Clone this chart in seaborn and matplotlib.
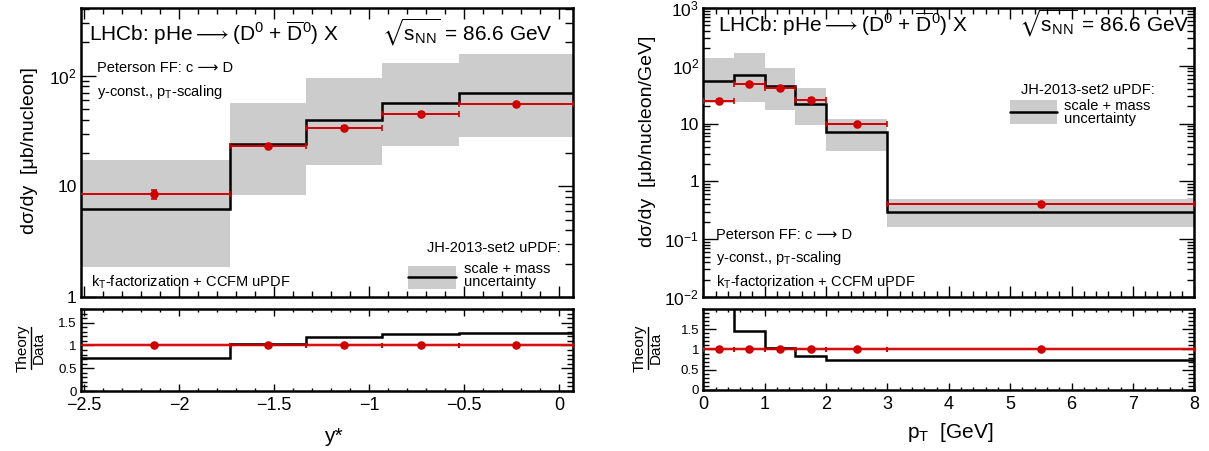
import numpy as np
import matplotlib
matplotlib.use("Agg")
import matplotlib.pyplot as plt
import seaborn as sns
from matplotlib.ticker import FixedLocator, FixedFormatter, MultipleLocator, LogLocator, NullFormatter
from matplotlib.patches import Rectangle
from matplotlib.lines import Line2D

# ---------------- data ----------------
# rapidity panel
y_edges = [-2.53, -1.73, -1.33, -0.93, -0.53, 0.07]
y_centers = [-2.13, -1.53, -1.13, -0.73, -0.23]
y_data = [8.5, 23.4, 34.0, 45.5, 55.0]
y_data_err = [0.8, 1.0, 1.2, 1.5, 2.0]
y_theory = [6.2, 24.0, 40.0, 57.0, 70.0]
y_band_lo = [1.86, 8.3, 15.5, 23.0, 28.0]
y_band_hi = [17.5, 57.0, 96.0, 131.0, 158.0]

# pT panel
pt_edges = [0.0, 0.5, 1.0, 1.5, 2.0, 3.0, 8.0]
pt_centers = [0.25, 0.75, 1.25, 1.75, 2.5, 5.5]
pt_data = [25.0, 48.0, 42.0, 26.0, 9.7, 0.41]
pt_data_err = [1.5, 2.5, 2.0, 1.5, 0.6, 0.03]
pt_theory = [54.0, 70.0, 44.0, 22.0, 7.2, 0.30]
pt_band_lo = [23.0, 24.0, 17.0, 9.3, 3.4, 0.165]
pt_band_hi = [135.0, 165.0, 91.0, 41.0, 11.8, 0.50]

title_txt = r'LHCb: pHe$\longrightarrow$(D$^{0}$ + $\overline{\mathrm{D}}^{0}$) X'
sqrt_txt = r'$\sqrt{\mathrm{s}_{\mathrm{NN}}}$ = 86.6 GeV'
ff_txt = 'Peterson FF: c ⟶ D'
sc_txt = r'y-const., p$_{\mathrm{T}}$-scaling'
kt_txt = r'k$_{\mathrm{T}}$-factorization + CCFM uPDF'
jh_txt = 'JH-2013-set2 uPDF:'
leg1_txt = 'scale + mass'
leg2_txt = 'uncertainty'
ylab_left = 'dσ/dy  [μb/nucleon]'
ylab_right = 'dσ/dy  [μb/nucleon/GeV]'
ratio_num = 'Theory'
ratio_den = 'Data'
xlab_left = 'y*'
xlab_right = r'p$_{\mathrm{T}}$  [GeV]'

# ---------------- style ----------------
sns.set_style("ticks")
plt.rcParams['font.family'] = ['Liberation Sans', 'DejaVu Sans']
plt.rcParams['mathtext.fontset'] = 'custom'
plt.rcParams['mathtext.rm'] = 'Liberation Sans'
plt.rcParams['mathtext.it'] = 'Liberation Sans:italic'
plt.rcParams['mathtext.bf'] = 'Liberation Sans:bold'
plt.rcParams['mathtext.fallback'] = 'stixsans'
plt.rcParams['axes.linewidth'] = 1.8

RED = '#d10000'
GREY = '#cccccc'

W, H = 1209, 451
fig = plt.figure(figsize=(W / 100, H / 100), dpi=100)


def fx(x):
    return x / W


def fy(y):
    return 1 - y / H


def add_ax(x0, x1, ytop, ybot):
    return fig.add_axes([fx(x0), fy(ybot), fx(x1) - fx(x0), fy(ytop) - fy(ybot)])


axL = add_ax(81, 572.7, 8, 297)
axLr = add_ax(81, 572.7, 309, 391)
axR = add_ax(703.3, 1194.3, 8, 297)
axRr = add_ax(703.3, 1194.3, 309.3, 390)


def style(ax, maj_len, min_len, lab_size):
    ax.tick_params(which='both', direction='in', top=True, right=True, colors='black', width=1.0)
    ax.tick_params(which='major', length=maj_len, labelsize=lab_size, pad=3)
    ax.tick_params(which='minor', length=min_len)
    for s in ax.spines.values():
        s.set_linewidth(1.8)
        s.set_color('black')


def draw_main(ax, edges, centers, data, derr, theory, lo, hi):
    edges = np.asarray(edges)
    ax.stairs(hi, edges, baseline=lo, fill=True, color=GREY, linewidth=0, zorder=1)
    ax.stairs(theory, edges, color='black', linewidth=1.8, zorder=3, baseline=None)
    xerr = np.diff(edges) / 2
    ax.errorbar(centers, data, xerr=xerr, yerr=derr, fmt='none', ecolor=RED,
                elinewidth=1.4, capsize=2.0, capthick=1.2, zorder=4)
    sns.scatterplot(x=centers, y=data, ax=ax, color=RED, s=38, edgecolor=RED,
                    linewidth=0, zorder=5, legend=False)


def draw_ratio(ax, edges, centers, data, theory):
    edges = np.asarray(edges)
    ratio = np.asarray(theory) / np.asarray(data)
    ax.axhline(1.0, color='#f08080', linewidth=2.8, alpha=0.55, zorder=2)
    ax.stairs(ratio, edges, color='black', linewidth=1.8, zorder=3, baseline=None)
    xerr = np.diff(edges) / 2
    ones = np.ones(len(centers))
    ax.errorbar(centers, ones, xerr=xerr, fmt='none', ecolor=RED,
                elinewidth=1.3, capsize=1.8, capthick=1.2, zorder=4)
    sns.scatterplot(x=centers, y=ones, ax=ax, color=RED, s=38, edgecolor=RED,
                    linewidth=0, zorder=5, legend=False)


# ----- left main -----
draw_main(axL, y_edges, y_centers, y_data, y_data_err, y_theory, y_band_lo, y_band_hi)
axL.set_yscale('log')
axL.set_ylim(1, 410)
axL.set_xlim(-2.515, 0.07)
axL.yaxis.set_major_locator(FixedLocator([1, 10, 100]))
axL.yaxis.set_major_formatter(FixedFormatter(['1', '10', r'10$^{2}$']))
axL.yaxis.set_minor_locator(LogLocator(base=10, subs=np.arange(2, 10)))
axL.yaxis.set_minor_formatter(NullFormatter())
axL.xaxis.set_major_locator(MultipleLocator(0.5))
axL.xaxis.set_minor_locator(MultipleLocator(0.1))
axL.set_xticklabels([])
style(axL, 11, 6, 12.5)
axL.tick_params(axis='x', which='major', length=8)
axL.tick_params(axis='x', which='minor', length=4)

# ----- left ratio -----
draw_ratio(axLr, y_edges, y_centers, y_data, y_theory)
axLr.set_xlim(-2.515, 0.07)
axLr.set_ylim(0, 1.8)
axLr.yaxis.set_major_locator(FixedLocator([0, 0.5, 1, 1.5]))
axLr.yaxis.set_major_formatter(FixedFormatter(['0', '0.5', '1', '1.5']))
axLr.yaxis.set_minor_locator(MultipleLocator(0.1))
axLr.xaxis.set_minor_locator(MultipleLocator(0.1))
style(axLr, 9, 4, 9.5)
axLr.set_xticks([-2.5, -2, -1.5, -1, -0.5, 0])
axLr.set_xticklabels(['\u22122.5', '\u22122', '\u22121.5', '\u22121', '\u22120.5', '0'])
axLr.tick_params(axis='x', which='major', length=5, labelsize=13, pad=4)
axLr.tick_params(axis='x', which='minor', length=2.5)

# ----- right main -----
draw_main(axR, pt_edges, pt_centers, pt_data, pt_data_err, pt_theory, pt_band_lo, pt_band_hi)
axR.set_yscale('log')
axR.set_ylim(0.01, 1000)
axR.set_xlim(0, 8)
axR.yaxis.set_major_locator(FixedLocator([0.01, 0.1, 1, 10, 100, 1000]))
axR.yaxis.set_major_formatter(FixedFormatter([r'10$^{-2}$', r'10$^{-1}$', '1', '10', r'10$^{2}$', r'10$^{3}$']))
axR.yaxis.set_minor_locator(LogLocator(base=10, subs=np.arange(2, 10)))
axR.yaxis.set_minor_formatter(NullFormatter())
axR.xaxis.set_major_locator(MultipleLocator(1))
axR.xaxis.set_minor_locator(MultipleLocator(0.2))
axR.set_xticklabels([])
style(axR, 11, 5, 12.5)
axR.tick_params(axis='x', which='major', length=8)
axR.tick_params(axis='x', which='minor', length=4)

# ----- right ratio -----
draw_ratio(axRr, pt_edges, pt_centers, pt_data, pt_theory)
axRr.set_xlim(0, 8)
axRr.set_ylim(0, 1.99)
axRr.yaxis.set_major_locator(FixedLocator([0, 0.5, 1, 1.5]))
axRr.yaxis.set_major_formatter(FixedFormatter(['0', '0.5', '1', '1.5']))
axRr.yaxis.set_minor_locator(MultipleLocator(0.1))
axRr.xaxis.set_minor_locator(MultipleLocator(0.2))
style(axRr, 9, 4, 9.5)
axRr.set_xticks(list(range(0, 9)))
axRr.set_xticklabels([str(i) for i in range(0, 9)])
axRr.tick_params(axis='x', which='major', length=5, labelsize=13, pad=4)
axRr.tick_params(axis='x', which='minor', length=2.5)


# ---------------- texts ----------------
def t(x, y, s, size, ha='left', va='baseline', **kw):
    fig.text(fx(x), fy(y), s, fontsize=size, ha=ha, va=va, color='black', **kw)


def ratio_label(xc, yc):
    # rotated fraction "Theory / Data"
    t(xc - 8, yc, ratio_num, 11, ha='center', va='center', rotation=90)
    t(xc + 8, yc, ratio_den, 11, ha='center', va='center', rotation=90)
    fig.lines.append(Line2D([fx(xc), fx(xc)], [fy(yc + 21), fy(yc - 21)],
                            transform=fig.transFigure, color='black', linewidth=1.0))


# left panel
t(89.3, 41, title_txt, 15)
t(553, 41, sqrt_txt, 15, ha='right')
t(96.7, 72, ff_txt, 10.5)
t(96.7, 96, sc_txt, 10.5)
t(90.7, 287, kt_txt, 10.5)
t(561, 252, jh_txt, 10.5, ha='right')
fig.patches.append(Rectangle((fx(407.7), fy(288.7)), fx(456) - fx(407.7), fy(265.7) - fy(288.7),
                             transform=fig.transFigure, facecolor=GREY, edgecolor='none'))
fig.lines.append(Line2D([fx(407.7), fx(456)], [fy(277), fy(277)], transform=fig.transFigure,
                        color='black', linewidth=1.8))
t(464.3, 273, leg1_txt, 10.5)
t(464.3, 286, leg2_txt, 10.5)

# right panel
t(718.3, 32, title_txt, 15)
t(1190, 32, sqrt_txt, 15, ha='right')
t(1155, 94, jh_txt, 10.5, ha='right')
fig.patches.append(Rectangle((fx(1010), fy(124)), fx(1056.7) - fx(1010), fy(100) - fy(124),
                             transform=fig.transFigure, facecolor=GREY, edgecolor='none'))
fig.lines.append(Line2D([fx(1010), fx(1056.7)], [fy(112.3), fy(112.3)], transform=fig.transFigure,
                        color='black', linewidth=1.8))
t(1064, 110, leg1_txt, 10.5)
t(1064, 123, leg2_txt, 10.5)
t(716, 239, ff_txt, 10.5)
t(716, 262, sc_txt, 10.5)
t(716, 287, kt_txt, 10.5)

# axis labels
t(30, 151, ylab_left, 14, ha='center', va='center', rotation=90)
t(648, 141, ylab_right, 14, ha='center', va='center', rotation=90)
ratio_label(31, 348)
ratio_label(648, 348)
t(333, 436, xlab_left, 15, ha='center', va='center')
t(950, 433, xlab_right, 15, ha='center', va='center')

fig.savefig('out.png', dpi=100)
